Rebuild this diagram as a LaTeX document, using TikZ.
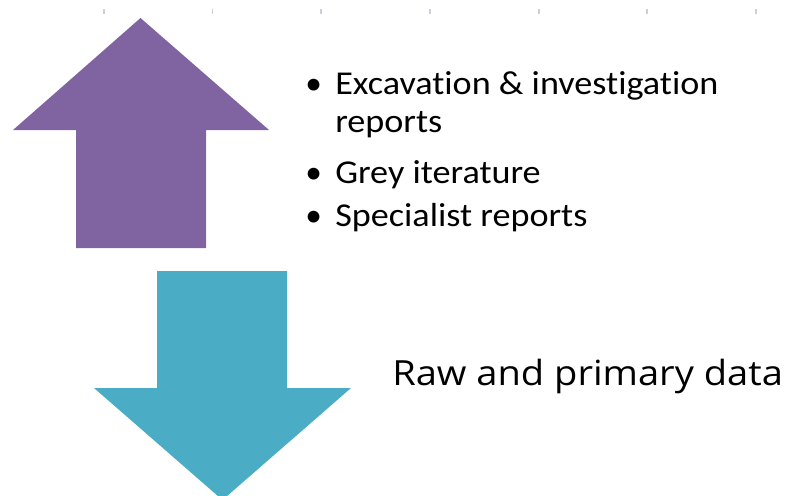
\documentclass[tikz,border=0pt]{standalone}
\usepackage{graphicx}
\usepackage{fontspec}
\setmainfont{Carlito}[Ligatures=NoCommon]
\newfontfamily\rawfont{Open Sans}
\definecolor{upcolor}{HTML}{8064A2}
\definecolor{downcolor}{HTML}{4BACC6}
\definecolor{tickcolor}{HTML}{C9D0DD}
% slightly widened list type
\newcommand{\widetext}[1]{\scalebox{1.085}[1]{#1}}
\begin{document}
\begin{tikzpicture}[x=0.75pt,y=-0.75pt,
  upfill/.style={fill=upcolor},
  downfill/.style={fill=downcolor},
  tickmark/.style={draw=tickcolor,line width=0.8pt},
  listtext/.style={anchor=base west,inner sep=0pt,font=\fontsize{25}{30}\selectfont},
  bulletmark/.style={anchor=base west,inner sep=0pt,font=\fontsize{25}{30}\selectfont},
  labeltext/.style={anchor=base west,inner sep=0pt,font=\rawfont\fontsize{26}{31}\selectfont}]
\useasboundingbox (0,0) rectangle (793,496);
\clip (0,0) rectangle (793,496);
% ruler ticks along the top
\foreach \x in {104,212.5,321,430,539,647,756}
  \draw[tickmark] (\x,9) -- (\x,14);
% upward block arrow
\fill[upfill] (140.5,18) -- (269,130) -- (206,130) -- (206,248) -- (76,248)
  -- (76,130) -- (13,130) -- cycle;
% downward block arrow
\fill[downfill] (157,271) -- (287,271) -- (287,388) -- (351,388) -- (222.5,500)
  -- (94,388) -- (157,388) -- cycle;
% bullet list
\node[bulletmark] (b1) at (305,94) {•};
\node[listtext] (l1) at (335,94) {\widetext{Excavation \& investigation}};
\node[listtext] (l1b) at (335,132) {\widetext{reports}};
\node[bulletmark] (b2) at (305,183) {•};
\node[listtext] (l2) at (335,183) {\widetext{Grey iterature}};
\node[bulletmark] (b3) at (305,226) {•};
\node[listtext] (l3) at (335,226) {\widetext{Specialist reports}};
% label beside the downward arrow
\node[labeltext] (raw) at (392,385) {\resizebox{293pt}{\height}{Raw and primary data}};
\end{tikzpicture}
\end{document}
